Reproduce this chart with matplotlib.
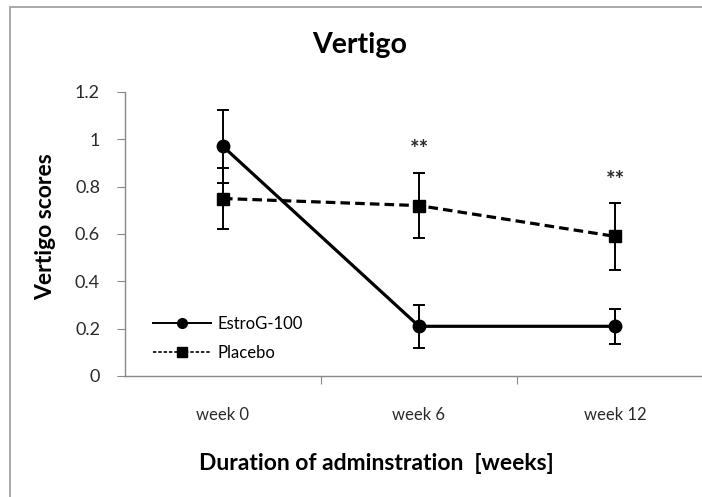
import matplotlib
matplotlib.use("Agg")
import matplotlib.pyplot as plt
from matplotlib.lines import Line2D
from matplotlib.patches import Rectangle

plt.rcParams['font.family'] = ['Lato', 'DejaVu Sans']

weeks = ["week 0", "week 6", "week 12"]
estrog_mean = [0.97, 0.21, 0.21]
estrog_err = [0.155, 0.09, 0.075]
placebo_mean = [0.75, 0.72, 0.59]
placebo_err = [0.127, 0.137, 0.14]
stars = ["", "**", "**"]
star_y = [None, 0.984, 0.853]
yticks = [0, 0.2, 0.4, 0.6, 0.8, 1, 1.2]
ytick_labels = ["0", "0.2", "0.4", "0.6", "0.8", "1", "1.2"]

W, H = 702, 497
fig = plt.figure(figsize=(W / 100, H / 100), dpi=100)

# outer chart frame
fig.patches.append(Rectangle((10 / W, -0.1), 1.2, (H - 7) / H + 0.1,
                             transform=fig.transFigure, fill=False,
                             edgecolor="#9a9a9a", linewidth=1.2))

ax_left, ax_right = 125 / W, 713 / W
ax_bottom, ax_top = (H - 376) / H, (H - 92) / H
ax = fig.add_axes([ax_left, ax_bottom, ax_right - ax_left, ax_top - ax_bottom])

x = [i + 0.5 for i in range(len(weeks))]

ax.errorbar(x, estrog_mean, yerr=estrog_err, color="black", linewidth=2.3,
            linestyle="-", marker="o", markersize=9, elinewidth=1.4,
            capsize=4, capthick=1.4, zorder=3)
ax.errorbar(x, placebo_mean, yerr=placebo_err, color="black", linewidth=2.3,
            linestyle=(0, (3, 1.6)), marker="s", markersize=9, elinewidth=1.4,
            capsize=4, capthick=1.4, zorder=3)

for xi, s, sy in zip(x, stars, star_y):
    if s:
        ax.annotate(s, (xi, sy), xytext=(0, -9), textcoords="offset points",
                    ha="center", va="baseline", fontsize=16,
                    fontweight="bold", color="#2a2a2a")

ax.set_xlim(0, 3)
ax.set_ylim(0, 1.2)
ax.set_yticks(yticks)
ax.set_yticklabels(ytick_labels, fontsize=13, color="#2a2a2a")
ax.set_xticks([1, 2])
ax.set_xticklabels([])
ax.set_xticks(x, minor=True)
ax.set_xticklabels(weeks, minor=True, fontsize=12, color="#2a2a2a")
ax.tick_params(axis="x", which="major", direction="out", length=6,
               color="#888888")
ax.tick_params(axis="x", which="minor", length=0, pad=22)
ax.tick_params(axis="y", direction="out", length=6, color="#888888", pad=12)

for side in ["top", "right"]:
    ax.spines[side].set_visible(False)
for side in ["left", "bottom"]:
    ax.spines[side].set_color("#888888")
    ax.spines[side].set_linewidth(1.0)

fig.text(46 / W, 1 - 227 / H, "Vertigo scores", rotation=90,
         ha="center", va="center", fontsize=16.5, fontweight="bold")
fig.text(376 / W, 1 - 463 / H, "Duration of adminstration  [weeks]",
         ha="center", va="center", fontsize=16.5, fontweight="bold")
fig.text(360 / W, 1 - 45 / H, "Vertigo", ha="center", va="center",
         fontsize=20.5, fontweight="bold")

handles = [
    Line2D([], [], color="black", linewidth=1.4, marker="o", markersize=7),
    Line2D([], [], color="black", linewidth=1.2, linestyle=(0, (2, 1.2)),
           marker="s", markersize=7),
]
ax.legend(handles, ["EstroG-100", "Placebo"], loc="upper left",
          bbox_to_anchor=((153 - 125) / 588, (376 - 316) / 284),
          frameon=False, fontsize=12, handlelength=3.5, handletextpad=0.36,
          labelspacing=0.78, borderaxespad=0, borderpad=0)

fig.savefig("out.png", dpi=100)
